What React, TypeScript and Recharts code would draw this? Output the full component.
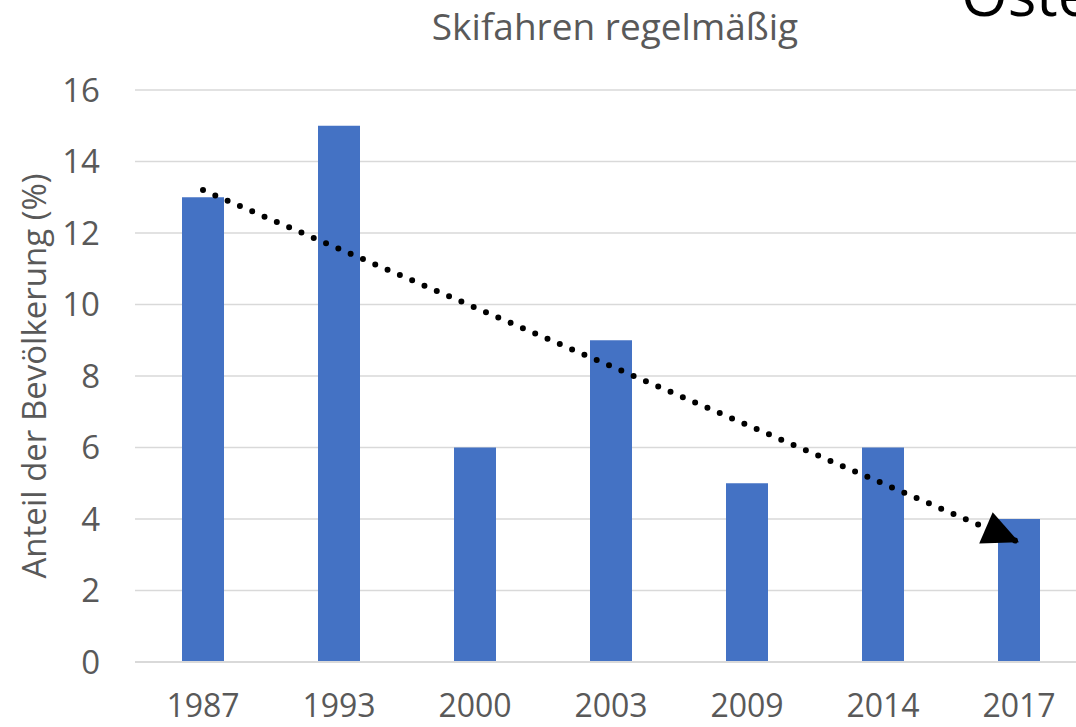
import React from 'react';
import { ComposedChart, Bar, Line, XAxis, YAxis, CartesianGrid } from 'recharts';

const years = ['1987', '1993', '2000', '2003', '2009', '2014', '2017'];
const shares = [13, 15, 6, 9, 5, 6, 4];
const trendStart = 13.2;
const trendEnd = 3.35;
const yTicks = [0, 2, 4, 6, 8, 10, 12, 14, 16];
const chartTitle = 'Skifahren regelmäßig';
const slideTitle = 'Österreich';
const yLabel = 'Anteil der Bevölkerung (%)';

const data = years.map((y, i) => ({
  year: y,
  value: shares[i],
  trend: i === 0 ? trendStart : i === years.length - 1 ? trendEnd : null,
}));

const FONT = '"Open Sans", sans-serif';

const ArrowDot = (props: any) => {
  const { cx, cy, index, points } = props;
  const key = `d-${index}`;
  if (cx == null || cy == null || index !== years.length - 1) return <g key={key} />;
  let angle = Math.atan2(355, 815);
  if (Array.isArray(points)) {
    const valid = points.filter((p: any) => p && p.y != null && p.x != null);
    if (valid.length >= 2) {
      const a = valid[0];
      const b = valid[valid.length - 1];
      angle = Math.atan2(b.y - a.y, b.x - a.x);
    }
  }
  const len = 36;
  const half = 17;
  const bx = cx - len * Math.cos(angle);
  const by = cy - len * Math.sin(angle);
  const px = -Math.sin(angle) * half;
  const py = Math.cos(angle) * half;
  const pts = `${cx},${cy} ${bx + px},${by + py} ${bx - px},${by - py}`;
  return (
    <g key={key}>
      <polygon points={pts} fill="#000" stroke="none" />
    </g>
  );
};

export default function App() {
  return (
    <div
      style={{
        position: 'absolute',
        left: 0,
        top: 0,
        width: 1076,
        height: 727,
        overflow: 'hidden',
        background: '#fff',
        fontFamily: FONT,
      }}
    >
      <ComposedChart
        width={1100}
        height={727}
        data={data}
        margin={{ top: 90, right: 13, bottom: 0, left: 0 }}
        style={{ fontFamily: FONT }}
      >
        <CartesianGrid vertical={false} stroke="#d9d9d9" strokeWidth={1.5} />
        <XAxis
          dataKey="year"
          height={65}
          axisLine={{ stroke: '#d9d9d9', strokeWidth: 2 }}
          tickLine={false}
          tickMargin={26}
          tick={{ fill: '#595959', fontSize: 32 }}
          interval={0}
        />
        <YAxis
          width={135}
          domain={[0, 16]}
          ticks={yTicks}
          axisLine={false}
          tickLine={false}
          tickMargin={29}
          tick={{ fill: '#595959', fontSize: 33 }}
          label={{
            value: yLabel,
            angle: -90,
            position: 'insideLeft',
            offset: 34,
            style: { textAnchor: 'middle', fill: '#595959', fontSize: 33 },
          }}
        />
        <Bar dataKey="value" fill="#4472C4" barSize={42} isAnimationActive={false} />
        <Line
          type="linear"
          dataKey="trend"
          stroke="#000"
          strokeWidth={6}
          strokeDasharray="0 13.4"
          strokeLinecap="round"
          connectNulls
          dot={ArrowDot}
          activeDot={false}
          isAnimationActive={false}
          legendType="none"
        />
      </ComposedChart>
      <div
        style={{
          position: 'absolute',
          left: 215,
          width: 800,
          top: 0,
          textAlign: 'center',
          fontSize: 37,
          lineHeight: 'normal',
          color: '#595959',
          whiteSpace: 'nowrap',
        }}
      >
        {chartTitle}
      </div>
      <div
        style={{
          position: 'absolute',
          left: 961,
          top: -37,
          fontSize: 60,
          lineHeight: '60px',
          color: '#000',
          whiteSpace: 'nowrap',
        }}
      >
        {slideTitle}
      </div>
    </div>
  );
}
